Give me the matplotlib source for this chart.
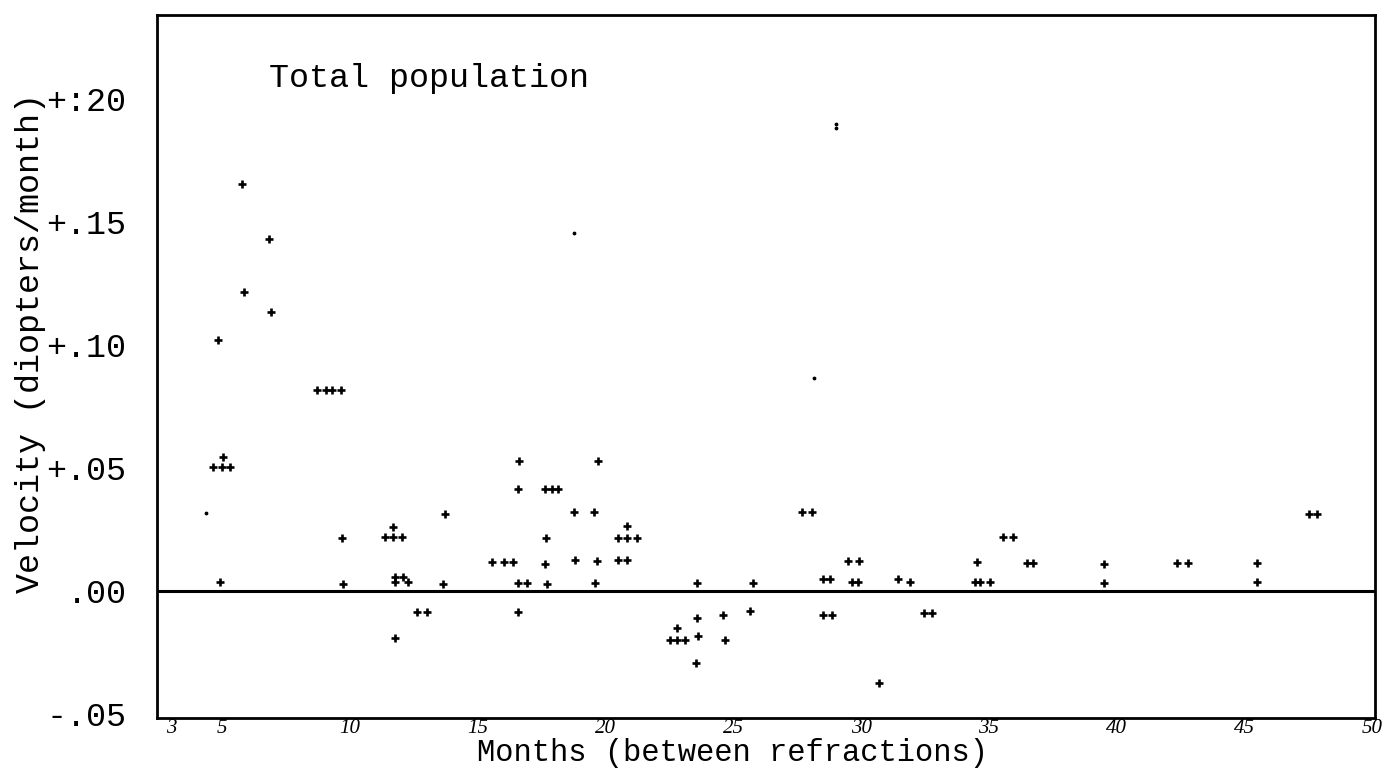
import numpy as np
import matplotlib.pyplot as plt

# months between refractions and velocity (diopters/month)
months = [4.92, 4.66, 4.99, 5.31, 5.05, 4.84, 5.79, 5.85, 6.84, 6.92,
          8.73, 9.06, 9.32, 9.65, 9.68, 9.75,
          11.70, 11.38, 11.70, 12.03, 11.77, 12.09, 11.77, 12.29, 11.77,
          12.63, 13.02, 13.66, 13.72,
          15.58, 16.05, 16.40, 16.63, 16.59, 16.59, 16.92, 16.59,
          17.64, 17.90, 18.16, 18.77, 19.55, 19.72, 17.68, 17.64, 18.81, 19.66,
          20.50, 20.83, 20.83, 20.50, 20.83, 21.22, 17.70, 19.59,
          22.79, 22.53, 22.79, 23.12, 23.63, 23.57, 23.54, 23.57,
          24.61, 24.68, 25.66, 25.76,
          27.68, 28.07, 28.52, 28.78, 28.50, 28.85,
          29.50, 29.93, 29.64, 29.89, 30.68, 31.46, 31.92, 32.44, 32.77,
          34.53, 34.46, 34.66, 35.05, 35.54, 35.93, 36.48, 36.74,
          39.51, 39.51, 42.37, 42.77, 45.48, 45.48, 47.50, 47.83]
velocity = [0.0038, 0.0505, 0.0505, 0.0505, 0.0543, 0.1022, 0.1653, 0.1214, 0.1431, 0.1135,
            0.0817, 0.0817, 0.0817, 0.0817, 0.0214, 0.0028,
            0.0261, 0.0218, 0.0218, 0.0218, 0.0058, 0.0058, 0.0037, 0.0037, -0.0192,
            -0.0087, -0.0087, 0.0028, 0.0313,
            0.0118, 0.0118, 0.0118, 0.0528, 0.0413, 0.0033, 0.0033, -0.0087,
            0.0413, 0.0413, 0.0413, 0.0320, 0.0320, 0.0528, 0.0217, 0.0109, 0.0126, 0.0122,
            0.0127, 0.0127, 0.0264, 0.0217, 0.0217, 0.0217, 0.0028, 0.0031,
            -0.0149, -0.0198, -0.0198, -0.0198, -0.0182, -0.0111, -0.0291, 0.0034,
            -0.0098, -0.0199, -0.0080, 0.0031,
            0.0323, 0.0323, 0.0048, 0.0048, -0.0097, -0.0097,
            0.0121, 0.0121, 0.0035, 0.0035, -0.0375, 0.0048, 0.0038, -0.0091, -0.0091,
            0.0119, 0.0035, 0.0035, 0.0035, 0.0218, 0.0218, 0.0116, 0.0116,
            0.0110, 0.0032, 0.0113, 0.0113, 0.0113, 0.0038, 0.0313, 0.0313]

# faint specks on the original sheet
faint_months = [4.36, 18.78, 28.17, 29.0, 29.0]
faint_velocity = [0.0318, 0.1456, 0.0865, 0.190, 0.188]

x_ticks = [3, 5, 10, 15, 20, 25, 30, 35, 40, 45, 50]
y_ticks = [-0.05, 0.00, 0.05, 0.10, 0.15, 0.20]
y_tick_labels = ['-.05', '.00', '+.05', '+.10', '+.15', '+:20']

mono = 'Liberation Mono'

fig = plt.figure(figsize=(13.87, 7.70), dpi=100)
ax = fig.add_axes([0.1132, 0.0675, 0.8782, 0.9130])

ax.scatter(months, velocity, marker='+', s=28, linewidths=1.9, color='black', zorder=3)
ax.scatter(faint_months, faint_velocity, marker='o', s=3, color='black', zorder=3)

# zero reference line
ax.axhline(0, color='black', linewidth=2.2, zorder=2)

ax.set_xlim(2.46, 50.1)
ax.set_ylim(-0.0516, 0.2341)

ax.set_xticks(x_ticks)
ax.set_xticklabels([str(t) for t in x_ticks], family='Liberation Serif',
                   style='italic', fontsize=15)
ax.set_yticks(y_ticks)
ax.set_yticklabels(y_tick_labels, family=mono, fontsize=24)
ax.tick_params(axis='both', length=0)
ax.tick_params(axis='y', pad=22)
ax.tick_params(axis='x', pad=1)

for side in ['left', 'right', 'top', 'bottom']:
    ax.spines[side].set_linewidth(2.0)

ax.text(0.092, 0.91, 'Total population', transform=ax.transAxes,
        family=mono, fontsize=24, va='center', ha='left')

fig.text(0.528, 0.022, 'Months (between refractions)', family=mono, fontsize=22,
         ha='center', va='center')
fig.text(0.022, 0.555, 'Velocity (diopters/month)', family=mono, fontsize=24,
         ha='center', va='center', rotation=90)

plt.savefig('out.png', dpi=100)
plt.close()
